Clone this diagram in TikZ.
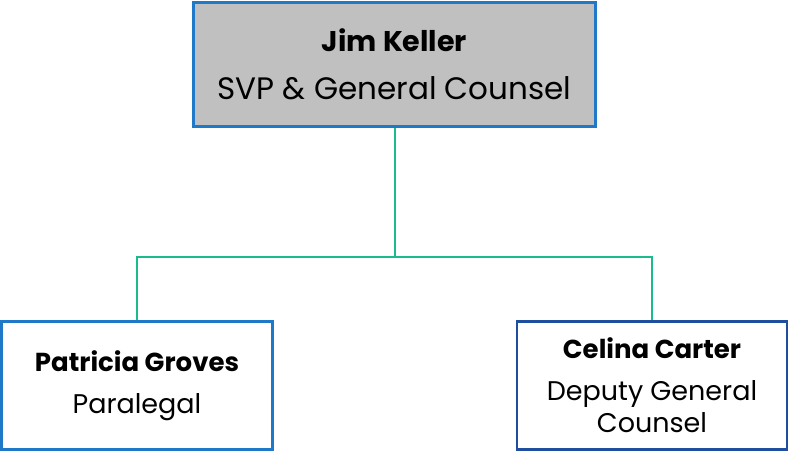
\documentclass[tikz,border=0pt]{standalone}
\usepackage{fontspec}
\setmainfont{Poppins}
\usetikzlibrary{calc}

\definecolor{boxblue}{HTML}{1F78C8}
\definecolor{boxnavy}{HTML}{1F4E9E}
\definecolor{linkgreen}{HTML}{1ABC8C}
\definecolor{headgray}{HTML}{C0C0C0}

\newcommand{\pname}[2]{{\fontsize{#1}{#1}\selectfont\bfseries #2}}

\begin{document}
\begin{tikzpicture}[x=1pt,y=-1pt,
                person/.style={draw=boxblue,line width=2.6pt,fill=white,inner sep=0pt,
                        align=center,text=black},
                link/.style={draw=linkgreen,line width=2pt}]
                \useasboundingbox (0,0) rectangle (789,452);

                % head of department
                \node[person,fill=headgray,minimum width=402pt,minimum height=124pt,
                        font=\fontsize{31}{48}\selectfont] (keller) at (394.5,64.5)
                        {\pname{28.5}{Jim Keller}\\SVP \& General Counsel};

                % reports
                \node[person,minimum width=271pt,minimum height=128pt,
                        font=\fontsize{27}{42}\selectfont] (groves) at (137,385.5)
                        {\pname{26}{Patricia Groves}\\Paralegal};
                \node[person,draw=boxnavy,minimum width=270pt,minimum height=128pt,
                        font=\fontsize{27}{32}\selectfont] (carter) at (652,385.5)
                        {\pname{26}{Celina Carter}\\[10pt]Deputy General\\Counsel};

                % connectors
                \coordinate (split) at ($(keller.south)+(0,129)$);
                \draw[link] (keller.south) -- (split);
                \draw[link] (groves.north) |- (split) -| (carter.north);
            \end{tikzpicture}
\end{document}
